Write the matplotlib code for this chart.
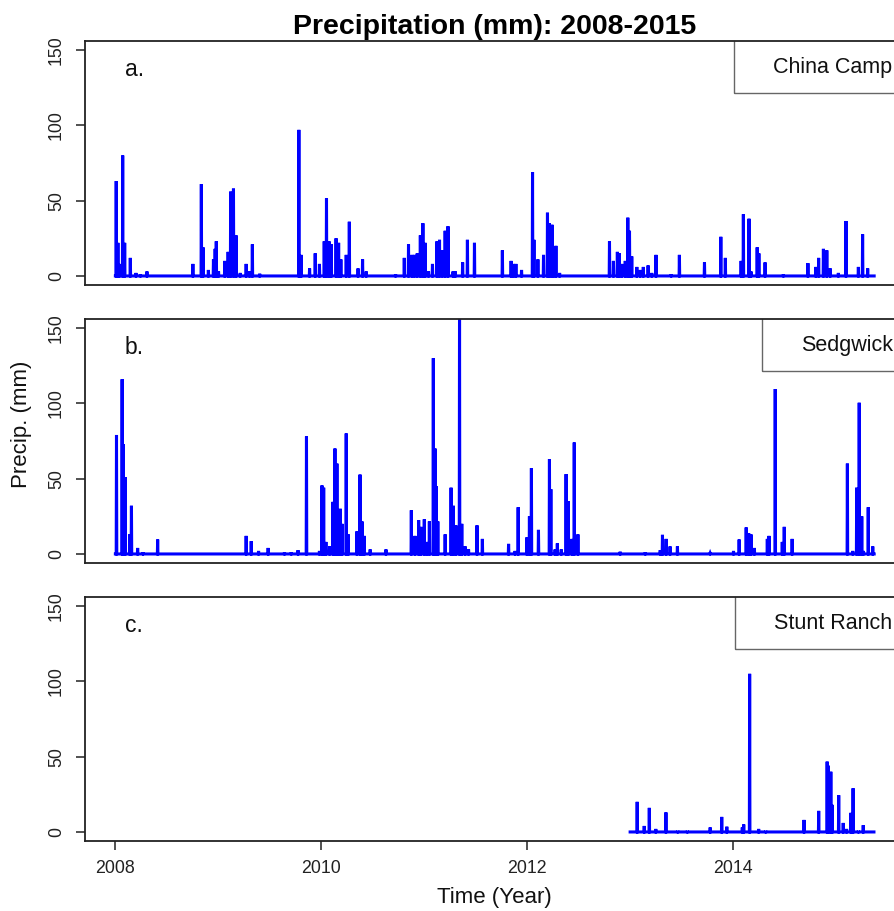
import numpy as np
import matplotlib
matplotlib.use('Agg')
import matplotlib.pyplot as plt
from matplotlib.patches import Rectangle

plt.rcParams['font.family'] = 'Liberation Sans'

# Rain days: (decimal year, precip in mm); all other days are 0
china_t = [2008.007, 2008.026, 2008.039, 2008.071, 2008.090, 2008.146, 2008.201, 2008.243, 2008.308,
           2008.754, 2008.835, 2008.851, 2008.903, 2008.954, 2008.968, 2008.981, 2009.003, 2009.061,
           2009.094, 2009.119, 2009.146, 2009.172, 2009.214, 2009.269, 2009.304, 2009.330, 2009.401,
           2009.783, 2009.803, 2009.886, 2009.942, 2009.983, 2010.029, 2010.051, 2010.075, 2010.097,
           2010.143, 2010.168, 2010.191, 2010.243, 2010.272, 2010.356, 2010.401, 2010.437, 2010.721,
           2010.806, 2010.848, 2010.881, 2010.906, 2010.932, 2010.961, 2010.987, 2011.010, 2011.042,
           2011.081, 2011.123, 2011.149, 2011.175, 2011.204, 2011.230, 2011.279, 2011.301, 2011.372,
           2011.420, 2011.488, 2011.760, 2011.845, 2011.867, 2011.890, 2011.945, 2012.051, 2012.065,
           2012.104, 2012.158, 2012.197, 2012.217, 2012.240, 2012.255, 2012.279, 2012.314, 2012.799,
           2012.838, 2012.877, 2012.896, 2012.919, 2012.954, 2012.978, 2012.993, 2013.017, 2013.065,
           2013.097, 2013.129, 2013.175, 2013.211, 2013.252, 2013.398, 2013.479, 2013.721, 2013.881,
           2013.925, 2014.078, 2014.100, 2014.155, 2014.175, 2014.233, 2014.250, 2014.311, 2014.489,
           2014.728, 2014.803, 2014.832, 2014.877, 2014.910, 2014.942, 2015.022, 2015.097, 2015.217,
           2015.259, 2015.308]
china_mm = [63, 22, 8, 80, 22, 12, 2, 1, 3,
            8, 61, 19, 4, 11, 18, 23, 3, 10,
            16, 56, 58, 27, 2, 8, 3, 21, 1.5,
            97, 14, 5, 15, 8, 23, 51.5, 23, 21,
            25, 22, 11, 14, 36, 5, 11, 3, 1,
            12, 21, 14, 14, 15, 27, 35, 22, 3,
            8, 23, 24, 17, 30, 33, 3, 3, 9,
            24, 22, 17, 10, 8, 8, 4, 69, 24,
            11, 14, 42, 35, 34, 8, 20, 2, 23,
            10, 16, 15, 8, 10, 38.7, 30, 13, 6,
            4, 6, 7, 2, 14, 1, 14, 9, 26,
            12, 10, 41, 38, 3, 19, 15, 9, 1,
            8.5, 6, 12, 18, 17, 5, 2, 36.5, 6,
            27.7, 5]

sedg_t = [2008.010, 2008.065, 2008.078, 2008.097, 2008.139, 2008.155, 2008.217, 2008.269, 2008.411,
          2009.269, 2009.320, 2009.391, 2009.485, 2009.644, 2009.709, 2009.774, 2009.857, 2009.981,
          2010.007, 2010.022, 2010.046, 2010.081, 2010.114, 2010.133, 2010.152, 2010.168, 2010.184,
          2010.201, 2010.243, 2010.262, 2010.347, 2010.376, 2010.395, 2010.417, 2010.476, 2010.628,
          2010.874, 2010.910, 2010.945, 2010.968, 2011.000, 2011.026, 2011.049, 2011.087, 2011.104,
          2011.117, 2011.133, 2011.204, 2011.262, 2011.284, 2011.308, 2011.343, 2011.366, 2011.398,
          2011.430, 2011.512, 2011.566, 2011.818, 2011.883, 2011.913, 2011.997, 2012.022, 2012.042,
          2012.110, 2012.217, 2012.230, 2012.272, 2012.294, 2012.330, 2012.379, 2012.401, 2012.434,
          2012.456, 2012.492, 2012.903, 2013.146, 2013.291, 2013.314, 2013.350, 2013.388, 2013.459,
          2013.777, 2014.003, 2014.058, 2014.126, 2014.152, 2014.175, 2014.207, 2014.333, 2014.350,
          2014.408, 2014.479, 2014.498, 2014.573, 2015.110, 2015.162, 2015.201, 2015.226, 2015.250,
          2015.265, 2015.314, 2015.356]
sedg_mm = [79, 116, 73, 51, 13, 32, 4, 1, 9.6,
           12, 8.5, 2, 4, 1, 1, 2.5, 78, 2,
           45.5, 44, 8, 5, 34.6, 70, 60, 16, 30,
           20, 80, 13, 15, 52.7, 21.6, 12, 3, 3,
           29, 12, 22.5, 18, 23, 8, 21.6, 130, 70,
           45, 21.6, 13, 44, 32, 19, 162, 20, 5,
           3, 19, 10, 6.7, 2, 31, 11, 25, 57,
           16, 63, 43, 3, 7, 3, 53, 35, 10,
           74, 13, 1.5, 1, 2.5, 12.7, 10, 5, 5,
           0.5, 2, 9.6, 17.6, 13.7, 13, 4, 10, 12,
           109.5, 8, 18, 10, 60, 2, 44, 100.4, 25,
           2, 31, 5]

stunt_t = [2013.068, 2013.136, 2013.187, 2013.250, 2013.347, 2013.463, 2013.556, 2013.777, 2013.890,
           2013.939, 2014.090, 2014.104, 2014.162, 2014.249, 2014.317, 2014.689, 2014.832, 2014.913,
           2014.925, 2014.949, 2014.964, 2015.026, 2015.071, 2015.104, 2015.143, 2015.165, 2015.217,
           2015.265]
stunt_mm = [20, 4, 16, 2, 13, 0.7, 0.7, 3, 10,
            3.5, 3, 5, 105, 2, 0.7, 8, 14, 46.7,
            44, 40, 18, 24.4, 6, 2, 12.7, 29, 0.7,
            4.5]

stations = ['China Camp', 'Sedgwick', 'Stunt Ranch']
panel_tags = ['a.', 'b.', 'c.']
rec_start = [2008.0, 2008.0, 2013.0]
rec_end = 2015.369
year_ticks = [2008, 2010, 2012, 2014]
rain_t = [china_t, sedg_t, stunt_t]
rain_mm = [china_mm, sedg_mm, stunt_mm]


def daily_series(start, end, t_list, mm_list):
    n = int(round((end - start) * 365.25)) + 1
    tt = start + np.arange(n) / 365.25
    vv = np.zeros(n)
    for t, v in zip(t_list, mm_list):
        i = int(round((t - start) * 365.25))
        vv[i] = max(vv[i], v)
    return tt, vv


fig = plt.figure(figsize=(8.95, 9.11), dpi=100)
ax_left = 85 / 895
ax_w = (904.5 - 85) / 895
panel_tops = [41, 319, 597]
panel_h = 244

legend_left = [0.792, 0.826, 0.793]
text_left = [0.8395, 0.8737, 0.841]

for k in range(3):
    top = panel_tops[k]
    ax = fig.add_axes([ax_left, 1 - (top + panel_h) / 911, ax_w, panel_h / 911])
    tt, vv = daily_series(rec_start[k], rec_end, rain_t[k], rain_mm[k])
    ax.plot(tt, vv, color='#0000ff', lw=2.2, solid_joinstyle='miter')
    ax.set_xlim(2007.705, 2015.665)
    ax.set_ylim(-6, 156)
    ax.set_yticks([0, 50, 100, 150])
    ax.set_yticklabels(['0', '50', '100', '150'], rotation=90, va='center')
    ax.tick_params(axis='both', direction='out', length=6.5, width=1.1,
                   labelsize=12.8, colors='#222222')
    ax.tick_params(axis='y', pad=8)
    ax.tick_params(axis='x', pad=7)
    if k < 2:
        ax.set_xticks([])
    else:
        ax.set_xticks(year_ticks)
        ax.set_xticklabels([str(y) for y in year_ticks])
    for s in ax.spines.values():
        s.set_linewidth(1.3)
        s.set_color('#222222')
    # legend box in the top right corner
    ax.add_patch(Rectangle((legend_left[k], 0.787), 1.2, 0.3, transform=ax.transAxes,
                           fill=False, edgecolor='#666666', lw=1.0, clip_on=True))
    ax.text(text_left[k], 0.893, stations[k], transform=ax.transAxes,
            fontsize=15.5, ha='left', va='center', color='#111111')
    ax.text(0.0488, 0.885, panel_tags[k], transform=ax.transAxes,
            fontsize=16.5, ha='left', va='center', color='#111111')

fig.text(495 / 895, 1 - 34 / 911, 'Precipitation (mm): 2008-2015', fontsize=20.5,
         fontweight='bold', ha='center', va='baseline')
fig.text(22 / 895, 1 - 424 / 911, 'Precip. (mm)', fontsize=16, rotation=90,
         ha='center', va='center', color='#111111')
fig.text(494 / 895, 1 - 898 / 911, 'Time (Year)', fontsize=16,
         ha='center', va='center', color='#111111')

fig.savefig('out.png', dpi=100)
